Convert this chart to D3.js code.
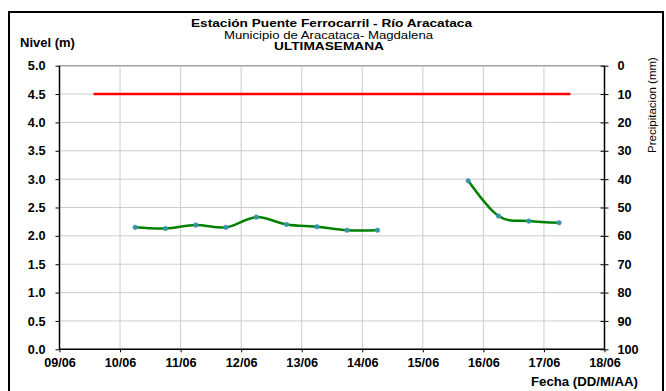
<!DOCTYPE html>
<html>
<head>
<meta charset="utf-8">
<script src="https://cdn.jsdelivr.net/npm/d3@7"></script>
<style>
  body { margin: 0; background: #fff; }
  text { font-family: "Liberation Sans", Arial, sans-serif; }
</style>
</head>
<body>
<svg id="chart" width="666" height="391"></svg>
<script>
// lecturas cada 12 horas
var fechas = ["10/06/2015 06:00", "10/06/2015 18:00", "11/06/2015 06:00", "11/06/2015 18:00",
              "12/06/2015 06:00", "12/06/2015 18:00", "13/06/2015 06:00", "13/06/2015 18:00",
              "14/06/2015 06:00", "14/06/2015 18:00", "15/06/2015 06:00", "15/06/2015 18:00",
              "16/06/2015 06:00", "16/06/2015 18:00", "17/06/2015 06:00"];
var nivel = [2.15, 2.13, 2.19, 2.15, 2.33, 2.20, 2.16, 2.10, 2.10, null, null, 2.97, 2.35, 2.26, 2.23];

var alertaFechas = ["09/06/2015 13:30", "17/06/2015 10:30"];
var alertaNivel = [4.5, 4.5];

var diasTicks = ["09/06/2015", "10/06/2015", "11/06/2015", "12/06/2015", "13/06/2015",
                 "14/06/2015", "15/06/2015", "16/06/2015", "17/06/2015", "18/06/2015"];
var nivelTicks = [0, 0.5, 1, 1.5, 2, 2.5, 3, 3.5, 4, 4.5, 5];
var precipTicks = [0, 10, 20, 30, 40, 50, 60, 70, 80, 90, 100];

(function() {
  var svg = d3.select("#chart");
  var parseHora = d3.timeParse("%d/%m/%Y %H:%M"),
      parseDia = d3.timeParse("%d/%m/%Y");

  var left = 59.5, right = 604.5, top = 65.7, bottom = 349.3;

  var x = d3.scaleTime()
      .domain([parseDia(diasTicks[0]), parseDia(diasTicks[diasTicks.length - 1])])
      .range([left, right]);
  var y = d3.scaleLinear().domain([0, 5]).range([bottom, top]);
  var yp = d3.scaleLinear().domain([0, 100]).range([top, bottom]);

  // marco
  svg.append("rect")
      .attr("x", 9).attr("y", 12)
      .attr("width", 654).attr("height", 400)
      .attr("fill", "none")
      .attr("stroke", "#000")
      .attr("stroke-width", 2);

  // grilla
  var grid = svg.append("g").attr("class", "grid");
  grid.selectAll("line.h")
    .data(nivelTicks)
    .enter().append("line")
      .attr("x1", left).attr("x2", right)
      .attr("y1", function(d) { return y(d); })
      .attr("y2", function(d) { return y(d); })
      .attr("stroke", function(d) { return d === 5 ? "#a0a0a0" : "#cccccc"; })
      .attr("stroke-width", function(d) { return d === 5 ? 1.5 : 1; });
  grid.selectAll("line.v")
    .data(diasTicks.slice(1, -1).map(parseDia))
    .enter().append("line")
      .attr("x1", function(d) { return x(d); })
      .attr("x2", function(d) { return x(d); })
      .attr("y1", top).attr("y2", bottom)
      .attr("stroke", "#cccccc");

  // ejes
  var axisL = svg.append("g")
      .attr("transform", "translate(" + left + ",0)")
      .call(d3.axisLeft(y).tickValues(nivelTicks).tickSize(4).tickPadding(10)
        .tickFormat(d3.format(".1f")));
  var axisR = svg.append("g")
      .attr("transform", "translate(" + right + ",0)")
      .call(d3.axisRight(yp).tickValues(precipTicks).tickSize(4).tickPadding(9));
  axisR.selectAll(".tick line").attr("x1", -4);
  var axisB = svg.append("g")
      .attr("transform", "translate(0," + bottom + ")")
      .call(d3.axisBottom(x).tickValues(diasTicks.map(parseDia)).tickSize(3).tickPadding(6)
        .tickFormat(d3.timeFormat("%d/%m")));

  [axisL, axisR, axisB].forEach(function(a) {
    a.select(".domain").attr("stroke", "#000").attr("stroke-width", 1.5);
    a.selectAll(".tick line").attr("stroke", "#000");
    a.selectAll("text")
        .attr("font-family", "Liberation Sans, Arial, sans-serif")
        .attr("font-size", 12.7)
        .attr("font-weight", "bold")
        .attr("fill", "#000");
  });
  axisL.select(".domain").attr("d", "M0," + bottom + "V" + top);
  axisR.select(".domain").attr("d", "M0," + top + "V" + bottom);
  axisR.selectAll("text").attr("text-anchor", "start").attr("x", 13);
  axisB.select(".domain").attr("d", "M" + left + ",0H" + right);

  // umbral
  var alerta = alertaFechas.map(function(f, i) { return { t: parseHora(f), v: alertaNivel[i] }; });
  svg.append("path")
      .datum(alerta)
      .attr("fill", "none")
      .attr("stroke", "#ff0000")
      .attr("stroke-width", 2.5)
      .attr("d", d3.line()
        .x(function(d) { return x(d.t); })
        .y(function(d) { return y(d.v); }));

  // nivel
  var datos = fechas.map(function(f, i) { return { t: parseHora(f), v: nivel[i] }; });
  svg.append("path")
      .datum(datos)
      .attr("fill", "none")
      .attr("stroke", "#008000")
      .attr("stroke-width", 2.5)
      .attr("d", d3.line()
        .defined(function(d) { return d.v != null; })
        .curve(d3.curveCatmullRom.alpha(0))
        .x(function(d) { return x(d.t); })
        .y(function(d) { return y(d.v); }));

  svg.append("g")
    .selectAll("circle")
    .data(datos.filter(function(d) { return d.v != null; }))
    .enter().append("circle")
      .attr("cx", function(d) { return x(d.t); })
      .attr("cy", function(d) { return y(d.v); })
      .attr("r", 2.3)
      .attr("fill", "#2e9a9a")
      .attr("stroke", "#4f8fcf")
      .attr("stroke-width", 0.6);

  // textos
  svg.append("text")
      .attr("x", 191).attr("y", 27)
      .attr("textLength", 281).attr("lengthAdjust", "spacingAndGlyphs")
      .attr("font-size", 10.2).attr("font-weight", "bold")
      .text("Estación Puente Ferrocarril - Río Aracataca");
  svg.append("text")
      .attr("x", 224).attr("y", 38.5)
      .attr("textLength", 209).attr("lengthAdjust", "spacingAndGlyphs")
      .attr("font-size", 10)
      .text("Municipio de Aracataca- Magdalena");
  svg.append("text")
      .attr("x", 274).attr("y", 49.5)
      .attr("textLength", 110).attr("lengthAdjust", "spacingAndGlyphs")
      .attr("font-size", 10.2).attr("font-weight", "bold")
      .text("ULTIMASEMANA");
  svg.append("text")
      .attr("x", 20).attr("y", 47)
      .attr("font-size", 13).attr("font-weight", "bold")
      .text("Nivel (m)");
  svg.append("text")
      .attr("transform", "translate(656,105) rotate(-90)")
      .attr("text-anchor", "middle")
      .attr("font-size", 11.5)
      .text("Precipitacion (mm)");
  svg.append("text")
      .attr("x", 638).attr("y", 386)
      .attr("text-anchor", "end")
      .attr("font-size", 13.2).attr("font-weight", "bold")
      .text("Fecha (DD/M/AA)");
})();
</script>
</body>
</html>
